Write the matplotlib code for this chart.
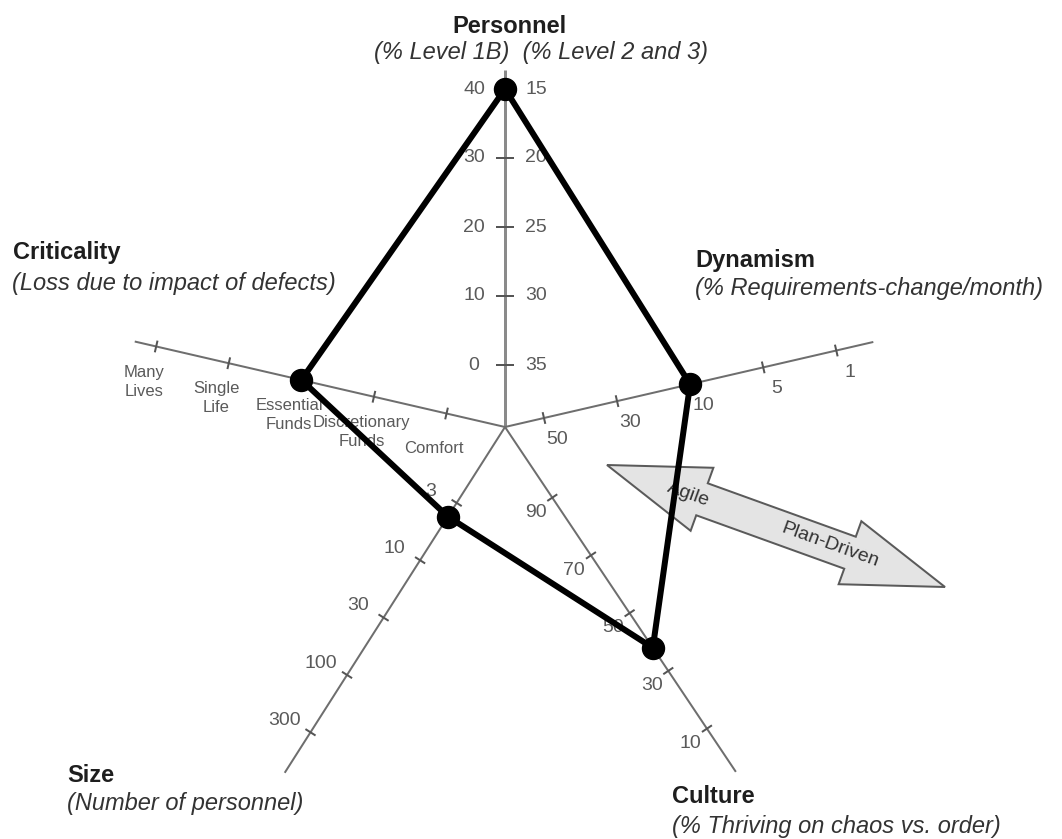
import numpy as np
import matplotlib
matplotlib.use("Agg")
import matplotlib.pyplot as plt
from matplotlib.patches import Polygon

plt.rcParams['font.family'] = ['Liberation Sans', 'DejaVu Sans']

# ---------------- data ----------------
axis_titles = ["Personnel", "Dynamism", "Culture", "Size", "Criticality"]
axis_subtitles = ["(% Level 1B)  (% Level 2 and 3)",
                  "(% Requirements-change/month)",
                  "(% Thriving on chaos vs. order)",
                  "(Number of personnel)",
                  "(Loss due to impact of defects)"]
personnel_level1b_ticks = [0, 10, 20, 30, 40]
personnel_level23_ticks = [35, 30, 25, 20, 15]
dynamism_ticks = [50, 30, 10, 5, 1]
culture_ticks = [90, 70, 50, 30, 10]
size_ticks = [3, 10, 30, 100, 300]
criticality_ticks = ["Comfort", "Discretionary\nFunds", "Essential\nFunds",
                     "Single\nLife", "Many\nLives"]

project_personnel = 40          # % Level 1B
project_dynamism = 10           # % requirements change per month
project_culture = 38            # % thriving on chaos
project_size = 4                # number of personnel
project_criticality = "Essential\nFunds"

arrow_labels = ["Agile", "Plan-Driven"]

# ---------------- layout (pixel space) ----------------
W, H = 1062, 839
CX, CY = 505, 427
geom = {
    "Personnel":   dict(angle=90.0,   r1=62, step=69.0, rend=357),
    "Dynamism":    dict(angle=13.0,   r1=40, step=75.0, rend=378),
    "Culture":     dict(angle=-56.2,  r1=85, step=69.5, rend=415),
    "Size":        dict(angle=-122.5, r1=90, step=68.0, rend=410),
    "Criticality": dict(angle=167.0,  r1=60, step=74.5, rend=380),
}
PX = 1 / 1.389  # pixels -> points at 100 dpi

AXIS_COLOR = "#6e6e6e"
LABEL_COLOR = "#5a5a5a"
TITLE_COLOR = "#1e1e1e"
SUB_COLOR = "#333333"


def unit(name):
    a = np.deg2rad(geom[name]["angle"])
    return np.array([np.cos(a), -np.sin(a)])


def perp(name):
    u = unit(name)
    return np.array([-u[1], u[0]])


def pos(name, idx):
    g = geom[name]
    r = g["r1"] + g["step"] * idx
    return np.array([CX, CY]) + r * unit(name)


idx5 = np.arange(5)

# value -> tick index
val_idx = {
    "Personnel": np.interp(project_personnel, personnel_level1b_ticks, idx5),
    "Dynamism": np.interp(-np.log10(project_dynamism),
                          -np.log10(dynamism_ticks), idx5),
    "Culture": np.interp(-project_culture, -np.array(culture_ticks), idx5),
    "Size": np.interp(np.log10(project_size), np.log10(size_ticks), idx5),
    "Criticality": float(criticality_ticks.index(project_criticality)),
}

fig = plt.figure(figsize=(W / 100, H / 100), dpi=100)
ax = fig.add_axes([0, 0, 1, 1])
ax.set_xlim(0, W)
ax.set_ylim(H, 0)
ax.axis("off")

# ---------------- axes ----------------
for name in axis_titles:
    end = np.array([CX, CY]) + geom[name]["rend"] * unit(name)
    lw = 3 * PX if name == "Personnel" else 2 * PX
    col = "#8a8a8a" if name == "Personnel" else AXIS_COLOR
    ax.plot([CX, end[0]], [CY, end[1]], color=col, lw=lw, zorder=2,
            solid_capstyle="butt")
    half = 8 if name == "Personnel" else 5
    for i in idx5:
        p = pos(name, i)
        d = np.array([1.0, 0.0]) if name == "Personnel" else perp(name)
        ax.plot([p[0] - half * d[0], p[0] + half * d[0]],
                [p[1] - half * d[1], p[1] + half * d[1]],
                color="#555555", lw=2 * PX, zorder=2)

# tick labels
lab_kw = dict(color=LABEL_COLOR, fontsize=14, ha="center", va="center", zorder=3)
for i in idx5:
    p = pos("Personnel", i)
    ax.text(p[0] - 31, p[1], str(personnel_level1b_ticks[i]), **lab_kw)
    ax.text(p[0] + 31, p[1], str(personnel_level23_ticks[i]), **lab_kw)

    p = pos("Dynamism", i) + 24 * perp("Dynamism") + 8 * unit("Dynamism")
    ax.text(p[0], p[1], str(dynamism_ticks[i]), **lab_kw)

    p = pos("Culture", i) + 22 * perp("Culture") + 3 * unit("Culture")
    ax.text(p[0], p[1], str(culture_ticks[i]), **lab_kw)

    p = pos("Size", i) + 28 * perp("Size") + 4 * unit("Size")
    ax.text(p[0], p[1], str(size_ticks[i]), **lab_kw)

    p = pos("Criticality", i) - 37 * perp("Criticality") + 4 * unit("Criticality")
    ax.text(p[0], p[1], criticality_ticks[i], color=LABEL_COLOR, fontsize=12,
            ha="center", va="center", linespacing=1.35, zorder=3)

# ---------------- titles ----------------
title_pos = {
    "Personnel":   ((509, 33), (541, 59), "center"),
    "Dynamism":    ((695, 267), (695, 295), "left"),
    "Culture":     ((672, 803), (672, 833), "left"),
    "Size":        ((67, 782), (67, 810), "left"),
    "Criticality": ((13, 259), (12, 290), "left"),
}
for name, sub in zip(axis_titles, axis_subtitles):
    (tx, ty), (sx, sy), ha = title_pos[name]
    ax.text(tx, ty, name, fontsize=17, fontweight="bold", color=TITLE_COLOR,
            ha=ha, va="baseline", zorder=3)
    ax.text(sx, sy, sub, fontsize=17, fontstyle="italic", color=SUB_COLOR,
            ha=ha, va="baseline", zorder=3)

# ---------------- double arrow ----------------
tipL = np.array([607.0, 465.0])
tipR = np.array([945.0, 587.0])
u = (tipR - tipL) / np.linalg.norm(tipR - tipL)
v = np.array([-u[1], u[0]])
L = np.linalg.norm(tipR - tipL)
hl, hw, sw = 101, 67, 34
pts = [tipL,
       tipL + hl * u - hw / 2 * v,
       tipL + hl * u - sw / 2 * v,
       tipL + (L - hl) * u - sw / 2 * v,
       tipL + (L - hl) * u - hw / 2 * v,
       tipR,
       tipL + (L - hl) * u + hw / 2 * v,
       tipL + (L - hl) * u + sw / 2 * v,
       tipL + hl * u + sw / 2 * v,
       tipL + hl * u + hw / 2 * v]
ax.add_patch(Polygon(pts, closed=True, facecolor="#e4e4e4",
                     edgecolor="#5a5a5a", lw=2 * PX, joinstyle="miter", zorder=1.5))
rot = -np.degrees(np.arctan2(u[1], u[0]))
for lab, s in zip(arrow_labels, [87, 237]):
    p = tipL + s * u
    ax.text(p[0], p[1], lab, rotation=rot, rotation_mode="anchor",
            fontsize=14, color="#333333", ha="center", va="center", zorder=3)

# ---------------- project profile ----------------
order = ["Personnel", "Dynamism", "Culture", "Size", "Criticality", "Personnel"]
xy = np.array([pos(n, val_idx[n]) for n in order])
ax.plot(xy[:, 0], xy[:, 1], color="black", lw=6 * PX, zorder=4,
        solid_joinstyle="miter")
ax.plot(xy[:-1, 0], xy[:-1, 1], "o", color="black", markersize=22 * PX, zorder=5)

fig.savefig("out.png", dpi=100, facecolor="white")
